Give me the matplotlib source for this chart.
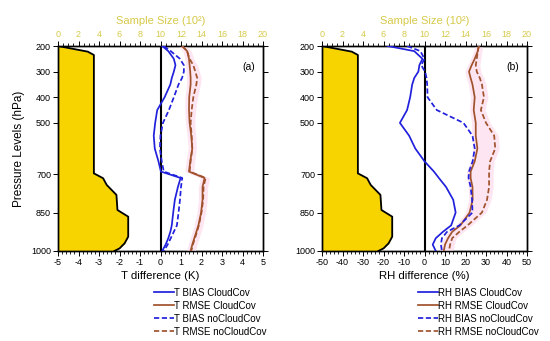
import matplotlib
matplotlib.use("Agg")
import matplotlib.pyplot as plt
from matplotlib.ticker import MultipleLocator
import numpy as np

plt.rcParams['font.family'] = ['Liberation Sans', 'DejaVu Sans']
plt.rcParams['axes.unicode_minus'] = False

# ---------------- data ----------------
levels = [200, 220, 250, 275, 300, 325, 350, 400, 450, 500, 550, 600, 650,
          690, 715, 750, 800, 850, 900, 925, 950, 975, 1000]

t_bias_cc = [0.08, 0.38, 0.65, 0.73, 0.65, 0.55, 0.48, 0.2, -0.16, -0.26, -0.33, -0.28, -0.1,
             0.02, 0.98, 0.85, 0.7, 0.62, 0.55, 0.48, 0.38, 0.25, 0.08]
t_rmse_cc = [1.06, 1.3, 1.39, 1.42, 1.45, 1.47, 1.47, 1.4, 1.39, 1.42, 1.5, 1.55, 1.45,
             1.39, 2.15, 2.05, 2.05, 1.98, 1.85, 1.75, 1.65, 1.55, 1.47]
t_bias_nocc = [0.16, 0.5, 0.95, 1.14, 1.14, 1.05, 0.88, 0.65, 0.41, 0.12, 0.0, -0.03, 0.06,
               0.16, 1.06, 1.0, 0.95, 0.88, 0.8, 0.65, 0.5, 0.35, 0.16]
t_rmse_nocc = [1.06, 1.3, 1.42, 1.6, 1.7, 1.79, 1.75, 1.6, 1.52, 1.47, 1.52, 1.55, 1.47,
               1.42, 2.2, 2.1, 2.08, 2.0, 1.87, 1.78, 1.68, 1.58, 1.5]

rh_bias_cc = [-18, -5, -1, -2.5, -3, -5, -6, -7, -8.5, -12, -7.5, -4.5, 0,
              4.6, 7, 10.5, 14, 15.2, 13, 9, 5.5, 4, 5.5]
rh_rmse_cc = [26.5, 26, 24.5, 23, 21.7, 22.5, 23.4, 24.5, 24, 25, 25, 25.8, 24.5,
              22.5, 22.5, 23.4, 23.5, 22, 17.5, 13.5, 11.5, 10, 9.4]
rh_bias_nocc = [-8.5, -2, 0, -1.6, 0.3, 1, 1.3, 1.5, 6, 19, 23.4, 24.5, 23.5,
                21.7, 21.5, 22.5, 23.2, 23.4, 17, 11, 8.5, 8, 8.5]
rh_rmse_nocc = [26.5, 26, 25.5, 25, 25.5, 27, 28, 29, 27.5, 30, 34, 34.5, 32,
                31.5, 31.5, 31.5, 30.5, 28, 21, 17, 13.5, 12.5, 11.9]

sample_levels = [200, 222, 235, 697, 716, 742, 781, 840, 866, 944, 970, 990, 1000]
sample_size = [0, 2.9, 3.5, 3.5, 4.4, 4.75, 5.7, 5.8, 6.85, 6.85, 6.5, 6.0, 5.5]

pressure_ticks = [200, 300, 400, 500, 700, 850, 1000]

# ---------------- style ----------------
BLUE = '#2020dd'
BROWN = '#a0522d'
GOLD = '#f7d300'
GOLDTXT = '#d6ca4a'
PINK = '#fde6f1'

W, H = 550, 341
fig = plt.figure(figsize=(5.5, 3.41), dpi=100)


def panel(x0, var, xlim, xmajor, xminor, bias_cc, rmse_cc, bias_nocc, rmse_nocc,
          xlabel, tag, ylabel):
    ax = fig.add_axes([x0 / W, 1 - 251 / H, 205 / W, 205 / H])
    ax.set_xlim(*xlim)
    ax.set_ylim(1000, 200)
    lo = np.minimum(rmse_cc, rmse_nocc)
    hi = np.maximum(rmse_cc, rmse_nocc)
    pad = (xlim[1] - xlim[0]) * 0.02
    ax.fill_betweenx(levels, lo - pad, hi + pad, color=PINK, lw=0, zorder=1)

    ax2 = ax.twiny()
    ax2.set_xlim(0, 20)
    ax2.fill_betweenx(sample_levels, 0, sample_size, color=GOLD, lw=0, zorder=2)
    ax2.plot(sample_size, sample_levels, color='black', lw=1.3, zorder=3)
    ax2.set_ylim(1000, 200)
    ax2.xaxis.set_major_locator(MultipleLocator(2))
    ax2.xaxis.set_minor_locator(MultipleLocator(0.5))
    ax2.tick_params(axis='x', which='both', direction='out', colors='black',
                    labelcolor=GOLDTXT, labelsize=6.5, pad=1.5)
    ax2.tick_params(axis='x', which='major', length=3.5, width=0.7)
    ax2.tick_params(axis='x', which='minor', length=2, width=0.6)
    ax2.set_xlabel('Sample Size (10²)', color=GOLDTXT, fontsize=8, labelpad=4)
    ax2.axvline(10, color='black', lw=1.5, zorder=4)

    ax.set_zorder(ax2.get_zorder() + 1)
    ax.patch.set_visible(False)
    h1, = ax.plot(bias_cc, levels, color=BLUE, lw=1.25, label=f'{var} BIAS CloudCov', zorder=5)
    h2, = ax.plot(rmse_cc, levels, color=BROWN, lw=1.25, label=f'{var} RMSE CloudCov', zorder=5)
    h3, = ax.plot(bias_nocc, levels, color=BLUE, lw=1.25, ls=(0, (3, 1.5)),
                  label=f'{var} BIAS noCloudCov', zorder=5)
    h4, = ax.plot(rmse_nocc, levels, color=BROWN, lw=1.25, ls=(0, (3, 1.5)),
                  label=f'{var} RMSE noCloudCov', zorder=5)

    ax.set_yticks(pressure_ticks)
    ax.set_yticklabels([str(p) for p in pressure_ticks])
    ax.yaxis.set_ticks_position('both')
    ax.xaxis.set_major_locator(MultipleLocator(xmajor))
    ax.xaxis.set_minor_locator(MultipleLocator(xminor))
    ax.tick_params(axis='both', which='both', direction='out', labelsize=6.5, pad=1.5)
    ax.tick_params(axis='both', which='major', length=3.5, width=0.7)
    ax.tick_params(axis='x', which='minor', length=2, width=0.6)
    ax.set_xlabel(xlabel, fontsize=8.2, labelpad=3)
    if ylabel:
        ax.set_ylabel('Pressure Levels (hPa)', fontsize=8.5, labelpad=4)
    for sp in list(ax.spines.values()) + list(ax2.spines.values()):
        sp.set_linewidth(1.0)
    ax.text(0.96, 0.9, tag, transform=ax.transAxes, ha='right', va='center', fontsize=7.5)

    ax.legend(handles=[h1, h2, h3, h4], loc='upper left',
              bbox_to_anchor=(0.47, -0.18), frameon=False, fontsize=7.0,
              handlelength=2.0, handletextpad=0.0, labelspacing=0.3,
              borderaxespad=0, borderpad=0)
    return ax


panel(58, 'T', (-5, 5), 1, 0.2, t_bias_cc, t_rmse_cc, t_bias_nocc, t_rmse_nocc,
      'T difference (K)', '(a)', True)
panel(322, 'RH', (-50, 50), 10, 2, rh_bias_cc, rh_rmse_cc, rh_bias_nocc, rh_rmse_nocc,
      'RH difference (%)', '(b)', False)

fig.savefig('out.png', dpi=100)
